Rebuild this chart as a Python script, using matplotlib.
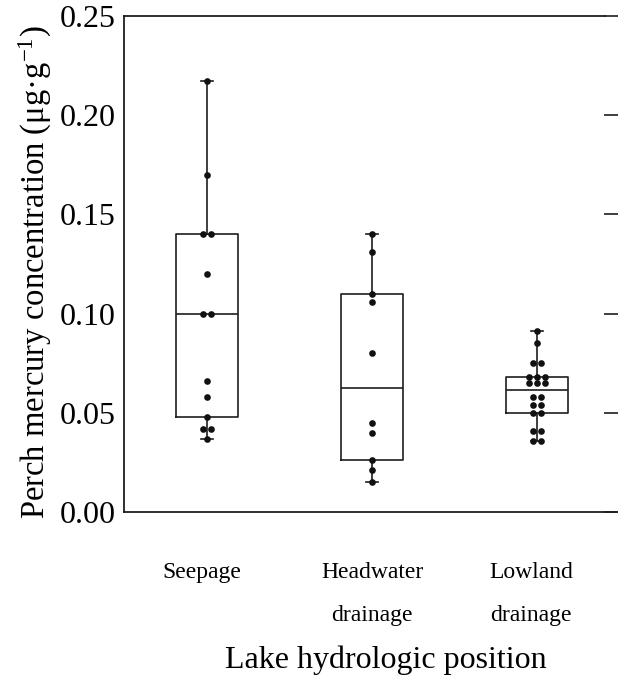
import numpy as np
import matplotlib
matplotlib.use("Agg")
import matplotlib.pyplot as plt
from matplotlib.transforms import ScaledTranslation

plt.rcParams['font.family'] = ['Liberation Serif', 'DejaVu Serif']
plt.rcParams['mathtext.fontset'] = 'custom'
plt.rcParams['mathtext.rm'] = 'Liberation Serif'
plt.rcParams['mathtext.it'] = 'Liberation Serif:italic'

categories = ["Seepage", "Headwater\ndrainage", "Lowland\ndrainage"]
seepage = [0.217, 0.170, 0.140, 0.140, 0.120, 0.100, 0.100, 0.066, 0.058, 0.048, 0.042, 0.042, 0.037]
headwater = [0.140, 0.131, 0.110, 0.106, 0.080, 0.045, 0.040, 0.026, 0.021, 0.015]
lowland = [0.091, 0.085, 0.075, 0.075, 0.068, 0.068, 0.068, 0.065, 0.065, 0.065,
           0.058, 0.058, 0.054, 0.054, 0.050, 0.050, 0.041, 0.041, 0.036, 0.036]
yticks = [0.00, 0.05, 0.10, 0.15, 0.20, 0.25]
ytick_labels = ["0.00", "0.05", "0.10", "0.15", "0.20", "0.25"]

groups = [seepage, headwater, lowland]
positions = [1, 2, 3]

def tukey_stats(vals):
    x = np.sort(np.asarray(vals))
    n = len(x)
    m = (n + 1) // 2
    return dict(med=np.median(x), q1=np.median(x[:m]), q3=np.median(x[n - m:]),
                whislo=x.min(), whishi=x.max(), fliers=[])

fig = plt.figure(figsize=(6.18, 6.75), dpi=100)
ax = fig.add_axes([124 / 618, (675 - 512) / 675, 1 - 124 / 618, (512 - 16) / 675])

lc = '#1e1e1e'
lw = 1.2
ax.bxp([tukey_stats(g) for g in groups], positions=positions, widths=0.38,
       showfliers=False,
       boxprops=dict(color=lc, linewidth=lw),
       medianprops=dict(color=lc, linewidth=lw),
       whiskerprops=dict(color=lc, linewidth=lw),
       capprops=dict(color=lc, linewidth=lw), capwidths=0.075)

step = 0.048
for pos, g in zip(positions, groups):
    vals, counts = np.unique(np.asarray(g), return_counts=True)
    for v, c in zip(vals, counts):
        offs = (np.arange(c) - (c - 1) / 2) * step
        ax.plot(pos + offs, [v] * c, 'o', color='#111111', ms=4.8, mec='none', zorder=3)

ax.set_xlim(0.497, 3.491)
ax.set_ylim(0, 0.25)
ax.set_yticks(yticks)
ax.set_yticklabels(ytick_labels, fontsize=23)
ax.tick_params(axis='y', which='both', left=False, right=True, direction='in',
               length=10, width=1.2, pad=6, labelleft=True, color=lc)
ax.set_xticks(positions)
ax.set_xticklabels(categories, fontsize=17, linespacing=2.4)
ax.tick_params(axis='x', length=0, pad=36)
label_dx = [-5, 0, -6]
for lab, dx in zip(ax.get_xticklabels(), label_dx):
    lab.set_transform(lab.get_transform() + ScaledTranslation(dx / 100, 0, fig.dpi_scale_trans))

for s in ['left', 'bottom', 'top']:
    ax.spines[s].set_linewidth(1.3)
    ax.spines[s].set_color(lc)
ax.spines['right'].set_visible(False)
ax.spines['top'].set_bounds(0.497, 3.41)

fig.text(35 / 618, 1 - 272 / 675, r"Perch mercury concentration (μg·g$^{\mathrm{-1}}$)",
         fontsize=23.5, rotation=90, ha='center', va='center')
fig.text(386 / 618, 1 - 660 / 675, "Lake hydrologic position", fontsize=23,
         ha='center', va='center')

fig.savefig("out.png", dpi=100)
